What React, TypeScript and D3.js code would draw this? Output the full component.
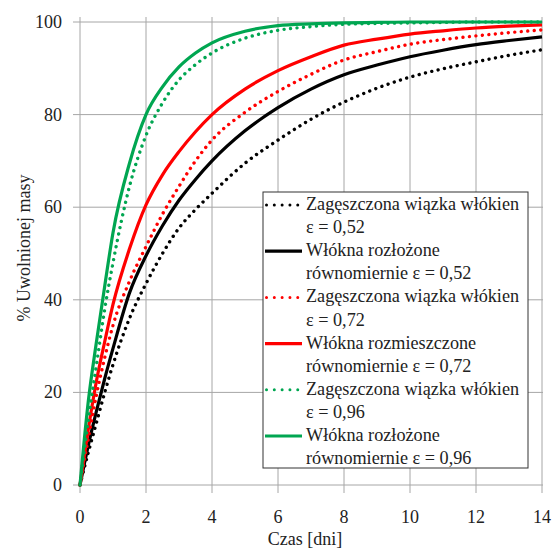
import React from "react";
import * as d3 from "d3";

const days = [0, 0.25, 0.5, 0.75, 1, 1.5, 2, 2.5, 3, 3.5, 4, 5, 6, 7, 8, 9, 10, 11, 12, 13, 14];

const dottedBlack = [0, 7, 13.5, 20, 26, 36, 43.5, 50, 55.5, 59.5, 63, 69.5, 74.5, 79, 82.7, 85.7, 88.1, 89.9, 91.4, 92.8, 94];
const solidBlack = [0, 8.5, 16, 23, 29.5, 41.5, 49.5, 56, 61.5, 66, 70, 76.5, 81.5, 85.5, 88.6, 90.7, 92.5, 93.9, 95.1, 96, 96.8];
const dottedRed = [0, 10, 19.5, 27.5, 34.5, 44, 51.5, 58.5, 64.5, 70, 74.5, 80.5, 85, 88.7, 91.8, 93.6, 95.2, 96.2, 97, 97.7, 98.3];
const solidRed = [0, 12, 22.5, 31, 39, 51, 60.5, 67, 72, 76.3, 80, 85.5, 89.5, 92.5, 95, 96.3, 97.4, 98.1, 98.7, 99.1, 99.4];
const dottedGreen = [0, 14, 26, 38, 48, 64.5, 75.5, 82.5, 87.5, 90.8, 93.3, 96.5, 98.2, 99, 99.5, 99.7, 99.8, 99.9, 100, 100, 100];
const solidGreen = [0, 18, 31, 43, 54.5, 69.5, 80, 86, 90.3, 93.3, 95.5, 98, 99.2, 99.6, 99.8, 99.9, 100, 100, 100, 100, 100];

const xTicks = [0, 2, 4, 6, 8, 10, 12, 14];
const yTicks = [0, 20, 40, 60, 80, 100];

const seriesNames = [
  ["Zagęszczona wiązka włókien", "ε = 0,52"],
  ["Włókna rozłożone", "równomiernie ε = 0,52"],
  ["Zagęszczona wiązka włókien", "ε = 0,72"],
  ["Włókna rozmieszczone", "równomiernie ε = 0,72"],
  ["Zagęszczona wiązka włókien", "ε = 0,96"],
  ["Włókna rozłożone", "równomiernie ε = 0,96"],
];

const BLACK = "#000000";
const RED = "#ff0000";
const GREEN = "#00a651";

const series = [
  { values: dottedBlack, color: BLACK, dotted: true },
  { values: solidBlack, color: BLACK, dotted: false },
  { values: dottedRed, color: RED, dotted: true },
  { values: solidRed, color: RED, dotted: false },
  { values: dottedGreen, color: GREEN, dotted: true },
  { values: solidGreen, color: GREEN, dotted: false },
];

const FONT = '"Liberation Serif"';

export default function App() {
  const W = 554, H = 553;
  const left = 80, right = 542, top = 22, bottom = 485;
  const x = d3.scaleLinear().domain([0, 14]).range([left, right]);
  const y = d3.scaleLinear().domain([0, 100]).range([bottom, top]);
  const line = d3
    .line<number>()
    .x((_, i) => x(days[i]))
    .y((v) => y(v))
    .curve(d3.curveMonotoneX);

  const lgX = 263, lgY = 192, lgW = 265, lgH = 276;
  const rowH = 23.1;
  const firstBase = 210;

  return (
    <svg width={W} height={H} style={{ position: "absolute", left: 0, top: 0, background: "#fff" }}>
      <rect x={0} y={0} width={W} height={H} fill="#fff" />
      <g stroke="#a6a6a6" strokeWidth={1}>
        {yTicks.map((t) => (
          <line key={"h" + t} x1={73} x2={right + 1} y1={y(t)} y2={y(t)} />
        ))}
        {xTicks.map((t) => (
          <line key={"v" + t} x1={x(t)} x2={x(t)} y1={17} y2={493} />
        ))}
      </g>
      <g fill="#222">
        {yTicks.map((t) => (
          <text key={"yl" + t} x={62} y={y(t) + 6} textAnchor="end" fontSize={18} style={{ fontFamily: FONT }}>
            {t}
          </text>
        ))}
        {xTicks.map((t) => (
          <text key={"xl" + t} x={x(t)} y={523} textAnchor="middle" fontSize={18} style={{ fontFamily: FONT }}>
            {t}
          </text>
        ))}
        <text x={305} y={545} textAnchor="middle" fontSize={18} style={{ fontFamily: FONT }}>Czas [dni]</text>
        <text transform={`translate(30, 248) rotate(-90)`} textAnchor="middle" fontSize={18} style={{ fontFamily: FONT }}>% Uwolnionej masy</text>
      </g>
      <g fill="none">
        {series.map((s, i) => (
          <path
            key={i}
            d={line(s.values) || ""}
            stroke={s.color}
            strokeWidth={s.dotted ? 3.4 : 3.2}
            strokeLinecap={s.dotted ? "round" : "butt"}
            strokeDasharray={s.dotted ? "0.01 6.5" : undefined}
          />
        ))}
      </g>
      <rect x={lgX} y={lgY} width={lgW} height={lgH} fill="#fff" stroke="#333" strokeWidth={1} />
      <g fill="#222">
        {series.map((s, i) => {
          const b1 = firstBase + rowH * 2 * i;
          const b2 = b1 + rowH;
          const ly = b1 - 5;
          return (
            <g key={i}>
              <line
                x1={s.dotted ? 266.5 : 265}
                x2={302}
                y1={ly}
                y2={ly}
                stroke={s.color}
                strokeWidth={s.dotted ? 3 : 3.2}
                strokeLinecap={s.dotted ? "round" : "butt"}
                strokeDasharray={s.dotted ? "0.01 7.8" : undefined}
              />
              <text x={306} y={b1} fontSize={18.2} style={{ fontFamily: FONT }}>{seriesNames[i][0]}</text>
              <text x={306} y={b2} fontSize={18.2} style={{ fontFamily: FONT }}>{seriesNames[i][1]}</text>
            </g>
          );
        })}
      </g>
    </svg>
  );
}
